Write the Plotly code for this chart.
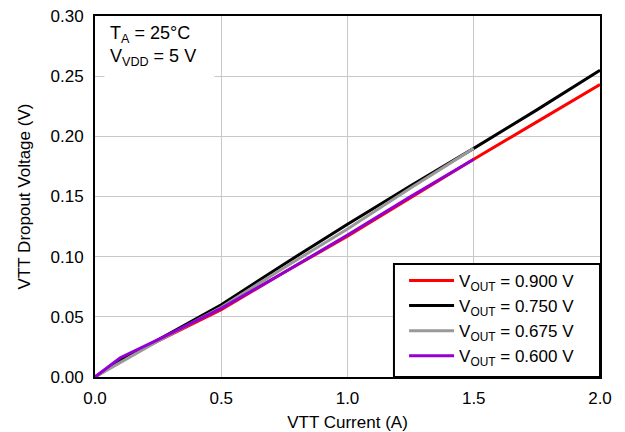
import plotly.graph_objects as go

current_full = [0, 0.1, 0.25, 0.5, 0.75, 1.0, 1.25, 1.5, 1.75, 2.0]
current_half = [0, 0.1, 0.25, 0.5, 0.75, 1.0, 1.25, 1.5]

v900 = [0, 0.014, 0.030, 0.056, 0.087, 0.117, 0.149, 0.181, 0.212, 0.243]
v750 = [0, 0.014, 0.031, 0.060, 0.094, 0.127, 0.159, 0.190, 0.222, 0.255]
v675 = [0, 0.012, 0.030, 0.058, 0.091, 0.123, 0.157, 0.190]
v600 = [0, 0.016, 0.031, 0.057, 0.087, 0.118, 0.150, 0.181]

x_ticks = [0, 0.5, 1.0, 1.5, 2.0]
x_ticklabels = ["0.0", "0.5", "1.0", "1.5", "2.0"]
y_ticks = [0, 0.05, 0.10, 0.15, 0.20, 0.25, 0.30]
y_ticklabels = ["0.00", "0.05", "0.10", "0.15", "0.20", "0.25", "0.30"]

names = ["V<sub>OUT</sub> = 0.900 V", "V<sub>OUT</sub> = 0.750 V",
         "V<sub>OUT</sub> = 0.675 V", "V<sub>OUT</sub> = 0.600 V"]
colors = ["#ff0000", "#000000", "#999999", "#9400d3"]

fig = go.Figure()
series = [(current_full, v900), (current_full, v750), (current_half, v675), (current_half, v600)]
for (x, y), n, c in zip(series, names, colors):
    fig.add_trace(go.Scatter(x=x, y=y, mode="lines", name=n,
                             line=dict(color=c, width=3)))

font = "Liberation Sans, Arial, sans-serif"
fig.update_layout(
    width=617, height=424,
    margin=dict(l=87, r=25, t=8, b=55, autoexpand=False),
    paper_bgcolor="white", plot_bgcolor="white",
    font=dict(family=font, size=17, color="black"),
    showlegend=True,
    legend=dict(x=0.612, y=0.316, xanchor="left", yanchor="top",
                bgcolor="rgba(0,0,0,0)", borderwidth=0,
                font=dict(size=17, family=font), tracegroupgap=0,
                itemwidth=45),
)
fig.update_xaxes(range=[0, 2.0], tickvals=x_ticks, ticktext=x_ticklabels,
                 showgrid=True, gridcolor="#c8c8c8", gridwidth=1,
                 showline=True, linecolor="black", linewidth=2, mirror=True,
                 zeroline=False, ticks="", ticklabelstandoff=5, automargin=False,
                 ticklabeloverflow="allow",
                 title=dict(text="VTT Current (A)", font=dict(size=17), standoff=12))
fig.update_yaxes(range=[0, 0.30], tickvals=y_ticks, ticktext=y_ticklabels,
                 showgrid=True, gridcolor="#c8c8c8", gridwidth=1,
                 showline=True, linecolor="black", linewidth=2, mirror=True,
                 zeroline=False, ticks="", ticklabelstandoff=6, automargin=False,
                 ticklabeloverflow="allow",
                 title=dict(text="VTT Dropout Voltage (V)", font=dict(size=17), standoff=16))

# legend frame
fig.add_shape(type="rect", xref="paper", yref="paper", x0=0.592, x1=1.0, y0=0.0, y1=0.313,
              fillcolor="white", line=dict(color="black", width=2), layer="above")

fig.add_annotation(xref="paper", yref="paper", x=0.018, y=0.997,
                   xanchor="left", yanchor="top", align="left", valign="top",
                   width=99, height=60,
                   text="T<sub>A</sub> = 25°C<br>V<sub>VDD</sub> = 5 V",
                   showarrow=False, bgcolor="white", borderpad=5,
                   font=dict(size=18, family=font))

fig.write_html("out.html")
